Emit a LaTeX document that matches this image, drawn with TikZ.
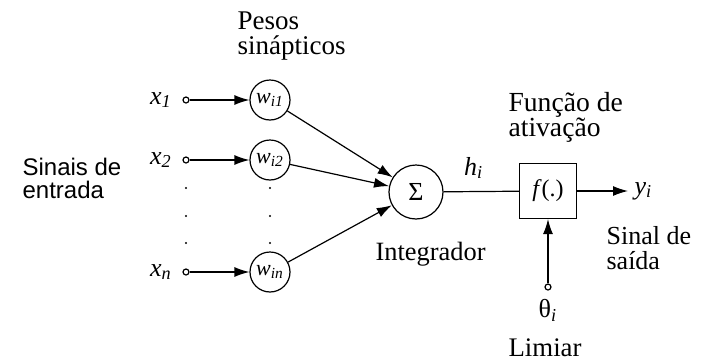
\documentclass[tikz,border=0pt]{standalone}
\usepackage{fontspec}
\setmainfont{Liberation Serif}
\newfontfamily\arialfont{Liberation Sans}
\usetikzlibrary{arrows.meta, positioning}

\newcommand{\sinal}[2]{\textit{#1}\textsubscript{\textit{#2}}}

\tikzset{
  peso/.style={draw, circle, minimum size=20pt, inner sep=0pt, font=\fontsize{11}{12}\selectfont},
  ponto/.style={draw, circle, fill=white, minimum size=3pt, inner sep=0pt},
  seta/.style={-{Latex[length=7.5pt,width=5pt]}},
  rotulo/.style={align=left, inner sep=0pt, anchor=base west},
  var/.style={inner sep=0pt, font=\fontsize{13}{14}\selectfont}
}

\begin{document}
\begin{tikzpicture}[x=0.5pt, y=-0.5pt, line width=0.6pt]
	\useasboundingbox (0,0) rectangle (709,360);
	% entradas
	\node[ponto] (e1) at (186,100) {};
	\node[ponto] (e2) at (186,160) {};
	\node[ponto] (en) at (186,272) {};
	\node[var, left=5pt of e1] (x1) {\sinal{x}{1}};
	\node[var, left=5pt of e2] (x2) {\sinal{x}{2}};
	\node[var, left=5pt of en] (xn) {\sinal{x}{n}};
	% pesos
	\node[peso] (w1) at (270,100) {\sinal{w}{i1}};
	\node[peso] (w2) at (270,160) {\sinal{w}{i2}};
	\node[peso] (wn) at (270,272) {\sinal{w}{in}};
	\foreach \y in {188,216,243} {
		\fill (186,\y) circle (0.6pt);
		\fill (270,\y) circle (0.6pt);
	}
	% integrador e ativacao
	\node[draw, circle, minimum size=27pt, inner sep=0pt, font=\fontsize{13}{14}\selectfont] (soma) at (416,192) {Σ};
	\node[draw, minimum width=28.5pt, minimum height=27.5pt, inner sep=0pt, font=\fontsize{12}{14}\selectfont] (fat) at (548,191) {\textit{f}(.)};
	\coordinate (fim) at (628,191);
	\node[ponto] (lim) at (548,287) {};
	\node[var, right=3pt of fim] (y) {\sinal{y}{i}};
	\node[var, below=4pt of lim] (theta) {θ\textsubscript{\textit{i}}};

	\draw[seta] (e1) -- (w1);
	\draw[seta] (e2) -- (w2);
	\draw[seta] (en) -- (wn);
	\draw[seta] (w1) -- (soma);
	\draw[seta] (w2) -- (soma);
	\draw[seta] (wn) -- (soma);
	\draw (soma) -- node[var, pos=0.4, above=6pt] (h) {\sinal{h}{i}} (fat);
	\draw[seta] (fat) -- (fim);
	\draw[seta] (lim) -- (fat);

	% textos (base = ultima linha)
	\node[rotulo, font=\fontsize{13.5}{12.5}\selectfont] (pesos) at (237,54) {Pesos\\sinápticos};
	\node[rotulo, font=\arialfont\fontsize{12}{11.5}\selectfont] (entrada) at (22,198) {Sinais de\\entrada};
	\node[rotulo, font=\fontsize{13.2}{14}\selectfont] (integ) at (375,260) {Integrador};
	\node[rotulo, font=\fontsize{13.8}{12.5}\selectfont] (funcao) at (508,136) {Função de\\ativação};
	\node[rotulo, font=\fontsize{13}{12.5}\selectfont] (saida) at (606,269) {Sinal de\\saída};
	\node[rotulo, font=\fontsize{13.4}{14}\selectfont] (limiar) at (508,356) {Limiar};
\end{tikzpicture}
\end{document}
